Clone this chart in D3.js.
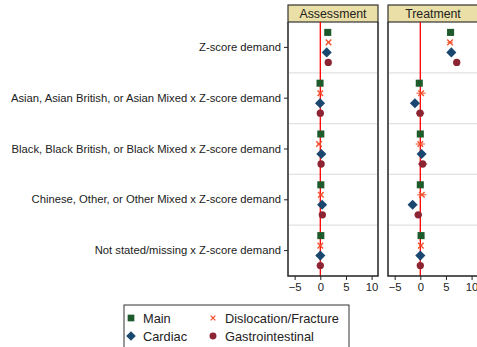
<!DOCTYPE html>
<html>
<head>
<meta charset="utf-8">
<script src="https://cdn.jsdelivr.net/npm/d3@7"></script>
<style>
  html, body { margin: 0; padding: 0; background: #fff; }
  svg { display: block; font-family: "Liberation Sans", Arial, sans-serif; }
</style>
</head>
<body>
<svg id="chart" width="477" height="347"></svg>
<script>
// Coefficient rows (top to bottom)
const terms = [
  "Z-score demand",
  "Asian, Asian British, or Asian Mixed x Z-score demand",
  "Black, Black British, or Black Mixed x Z-score demand",
  "Chinese, Other, or Other Mixed x Z-score demand",
  "Not stated/missing x Z-score demand"
];
const panels = ["Assessment", "Treatment"];
const models = ["Main", "Dislocation/Fracture", "Cardiac", "Gastrointestinal"];
const xTicks = [-5, 0, 5, 10];

// Point estimates, one array per model and panel (order follows `terms`)
const assessMain  = [1.45, -0.05, 0.10, 0.10, 0.10];
const assessDisl  = [1.60,  0.00, -0.25, 0.10, 0.00];
const assessCard  = [1.25, -0.05, 0.20, 0.35, 0.00];
const assessGastro= [1.55,  0.00, 0.15, 0.40, 0.00];
const treatMain   = [5.90, -0.20, 0.00, 0.00, 0.15];
const treatDisl   = [5.80,  0.15, 0.00, 0.30, 0.10];
const treatCard   = [6.05, -1.05, 0.25, -1.50, 0.00];
const treatGastro = [7.10, -0.05, 0.45, -0.40, 0.00];

// Half-widths of the confidence intervals
const assessCI = [[0.2, 0.2, 0.2, 0.2], [0.2, 0.3, 0.3, 0.2], [0.2, 0.4, 0.3, 0.2], [0.2, 0.3, 0.4, 0.3], [0.1, 0.2, 0.2, 0.2]];
const treatCI  = [[0.3, 0.5, 0.4, 0.5], [0.3, 0.9, 0.4, 0.8], [0.2, 0.9, 0.4, 0.9], [0.2, 0.9, 0.5, 0.7], [0.1, 0.3, 0.2, 0.2]];

const estimates = {
  Assessment: [assessMain, assessDisl, assessCard, assessGastro],
  Treatment:  [treatMain, treatDisl, treatCard, treatGastro]
};
const cis = { Assessment: assessCI, Treatment: treatCI };

const colors = {
  "Main": "#1f5a2c",
  "Dislocation/Fracture": "#f2502e",
  "Cardiac": "#1a476f",
  "Gastrointestinal": "#8c2433"
};
const symbols = {
  "Main": d3.symbolSquare,
  "Dislocation/Fracture": d3.symbolX,
  "Cardiac": d3.symbolDiamond,
  "Gastrointestinal": d3.symbolCircle
};
const sizes = { "Main": 50, "Dislocation/Fracture": 22, "Cardiac": 50, "Gastrointestinal": 42 };

const svg = d3.select("#chart");

const plotTop = 22, plotBottom = 276;
const panelW = 90, panelGap = 10, firstLeft = 288;
const headerTop = 5;

const y = d3.scaleBand().domain(terms).range([plotTop, plotBottom]);
const inner = d3.scalePoint().domain(models).range([-15, 15]);
const xBase = d3.scaleLinear().domain([-6.3, 11.25]).range([0, panelW]);

function symbolPath(m, scale) {
  const s = scale || 1;
  if (m === "Cardiac") {
    return d3.symbol().type(d3.symbolDiamond2).size(sizes[m] * 1.3 * s)();
  }
  return d3.symbol().type(symbols[m]).size(sizes[m] * s)();
}

panels.forEach((p, pi) => {
  const left = firstLeft + pi * (panelW + panelGap);
  const g = svg.append("g").attr("transform", `translate(${left},0)`);

  // header strip
  g.append("rect")
    .attr("x", 0).attr("y", headerTop)
    .attr("width", panelW).attr("height", plotTop - headerTop)
    .attr("fill", "#eadfa6").attr("stroke", "#333").attr("stroke-width", 1.2);
  g.append("text")
    .attr("x", panelW / 2).attr("y", headerTop + 12.5)
    .attr("text-anchor", "middle")
    .attr("font-size", 12.3).attr("fill", "#222")
    .text(p);

  // group separators
  g.selectAll("line.sep")
    .data(terms.slice(1))
    .join("line")
    .attr("class", "sep")
    .attr("x1", 1).attr("x2", panelW - 1)
    .attr("y1", d => y(d)).attr("y2", d => y(d))
    .attr("stroke", "#e1e1e1").attr("stroke-width", 1.3);

  // reference line at zero
  g.append("line")
    .attr("x1", xBase(0)).attr("x2", xBase(0))
    .attr("y1", plotTop).attr("y2", plotBottom)
    .attr("stroke", "#ff0000").attr("stroke-width", 1.3);

  // panel frame (sides and bottom)
  g.append("path")
    .attr("d", `M0,${plotTop}V${plotBottom}H${panelW}V${plotTop}`)
    .attr("fill", "none").attr("stroke", "#222").attr("stroke-width", 1.5);

  // x axis
  const xa = g.append("g")
    .attr("transform", `translate(0,${plotBottom})`)
    .call(d3.axisBottom(xBase).tickValues(xTicks).tickSize(4).tickPadding(3));
  xa.select(".domain").remove();
  xa.selectAll(".tick line").attr("stroke", "#222");
  xa.selectAll(".tick text")
    .attr("font-size", 11.3).attr("fill", "#222")
    .attr("font-family", "Liberation Sans, Arial, sans-serif");

  // estimates
  models.forEach((m, mi) => {
    const vals = estimates[p][mi];
    const rows = terms.map((t, ti) => ({
      t, v: vals[ti], h: cis[p][ti][mi],
      cy: y(t) + y.bandwidth() / 2 + inner(m)
    }));
    g.selectAll(null)
      .data(rows)
      .join("line")
      .attr("x1", d => xBase(d.v - d.h)).attr("x2", d => xBase(d.v + d.h))
      .attr("y1", d => d.cy).attr("y2", d => d.cy)
      .attr("stroke", colors[m]).attr("stroke-width", 1.2).attr("opacity", 0.85);
    const pts = g.selectAll(null)
      .data(rows)
      .join("path")
      .attr("transform", d => `translate(${xBase(d.v)},${d.cy})`)
      .attr("d", symbolPath(m));
    if (m === "Dislocation/Fracture") {
      pts.attr("fill", "none").attr("stroke", colors[m]).attr("stroke-width", 1.4)
        .attr("d", d3.symbol().type(d3.symbolX).size(22)());
    } else {
      pts.attr("fill", colors[m]);
    }
  });

  // y axis on the first panel only
  if (pi === 0) {
    const ya = g.append("g")
      .call(d3.axisLeft(y).tickSize(4).tickPadding(3));
    ya.select(".domain").remove();
    ya.selectAll(".tick line").attr("stroke", "#222");
    ya.selectAll(".tick text")
      .attr("font-size", 11.25).attr("fill", "#222")
      .attr("font-family", "Liberation Sans, Arial, sans-serif");
  }
});

// legend
const lg = svg.append("g").attr("transform", "translate(124,305)");
lg.append("rect")
  .attr("x", 0).attr("y", 0).attr("width", 225).attr("height", 48)
  .attr("fill", "#fff").attr("stroke", "#333").attr("stroke-width", 1);
const legendPos = [[0, 0], [1, 0], [0, 1], [1, 1]];
const order = ["Main", "Dislocation/Fracture", "Cardiac", "Gastrointestinal"];
order.forEach((m, i) => {
  const [c, r] = legendPos[i];
  const lx = 7 + c * 82, ly = 13 + r * 18;
  const sym = lg.append("path")
    .attr("transform", `translate(${lx},${ly})`);
  if (m === "Dislocation/Fracture") {
    sym.attr("d", d3.symbol().type(d3.symbolX).size(16)())
      .attr("fill", "none").attr("stroke", colors[m]).attr("stroke-width", 1.3);
  } else {
    sym.attr("d", symbolPath(m, 0.9)).attr("fill", colors[m]);
  }
  lg.append("text")
    .attr("x", lx + 12).attr("y", ly + 4.5)
    .attr("font-size", 12.8).attr("fill", "#222")
    .text(m);
});
</script>
</body>
</html>
